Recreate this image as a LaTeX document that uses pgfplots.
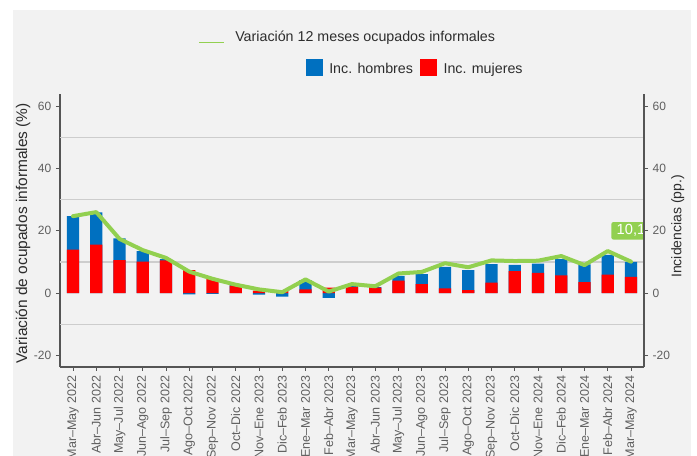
\documentclass[border=0pt]{standalone}
\usepackage{fontspec}
\setmainfont{Liberation Sans}
\usepackage{pgfplots}
\usepackage{pgfplotstable}
\pgfplotsset{compat=1.18}
\definecolor{bgc}{RGB}{242,242,242}
\definecolor{cblue}{RGB}{0,112,192}
\definecolor{cred}{RGB}{255,0,0}
\definecolor{cgreen}{RGB}{146,208,80}
\definecolor{gridc}{RGB}{205,205,205}
\definecolor{axc}{RGB}{85,85,85}
\definecolor{tickc}{RGB}{95,95,95}
\definecolor{txtc}{RGB}{45,45,45}

% red = Inc. mujeres; blue = top of stacked blue bar (if hombres>0) or hombres (if <0); line = variacion
\pgfplotstableread{
x red blue line
0 14.0 24.7 24.7
1 15.6 25.9 26.0
2 10.6 17.6 17.4
3 10.1 13.5 13.8
4 10.5 10.9 11.3
5 7.4 -0.4 6.9
6 4.6 -0.2 4.6
7 2.4 2.6 2.7
8 0.8 -0.5 1.2
9 0.9 -1.1 0.3
10 1.2 4.2 4.4
11 1.8 -1.5 0.5
12 2.0 2.4 2.9
13 1.8 1.9 2.2
14 4.0 5.5 6.3
15 2.9 6.1 6.8
16 1.5 8.4 9.6
17 1.0 7.4 8.3
18 3.4 9.3 10.5
19 7.1 9.1 10.3
20 6.5 9.5 10.4
21 5.7 10.9 11.9
22 3.5 9.2 9.0
23 5.9 12.3 13.5
24 5.2 10.0 10.1
}\data

\begin{document}
\begin{tikzpicture}
\begin{scope}[x=0.75pt, y=-0.75pt, shift={(-45pt,275.25pt)}]
\fill[white] (0,0) rectangle (697,456);
\fill[bgc] (13,10) rectangle (691,456);
\end{scope}

\begin{axis}[
  at={(0,0)}, anchor=south west, scale only axis,
  width=438pt, height=204.75pt,
  xmin=-0.56, xmax=24.56, ymin=-23.7, ymax=63.9,
  axis x line*=bottom, axis y line*=left,
  axis line style={axc, line width=0.8pt, -},
  xtick={0,...,24},
  xticklabels={Mar–May 2022,Abr–Jun 2022,May–Jul 2022,Jun–Ago 2022,Jul–Sep 2022,Ago–Oct 2022,Sep–Nov 2022,Oct–Dic 2022,Nov–Ene 2023,Dic–Feb 2023,Ene–Mar 2023,Feb–Abr 2023,Mar–May 2023,Abr–Jun 2023,May–Jul 2023,Jun–Ago 2023,Jul–Sep 2023,Ago–Oct 2023,Sep–Nov 2023,Oct–Dic 2023,Nov–Ene 2024,Dic–Feb 2024,Ene–Mar 2024,Feb–Abr 2024,Mar–May 2024},
  x tick label style={rotate=90, anchor=east, font=\fontsize{9.4}{10}\selectfont, text=tickc},
  ytick={-20,0,20,40,60},
  yticklabels={-20,0,20,40,60},
  y tick label style={font=\fontsize{9}{10}\selectfont, text=tickc},
  tick align=outside, major tick length=3pt,
  tick style={axc, line width=0.6pt},
  extra y ticks={-10,10,30,50},
  extra y tick labels={},
  extra y tick style={grid=major, major tick length=0pt},
  grid style={gridc, line width=0.9pt},
  ylabel={Variación de ocupados informales (\%)},
  ylabel style={at={(axis description cs:-0.0634,0.49)}, anchor=center, font=\fontsize{11.6}{13}\selectfont, text=txtc},
  clip=true,
]
\addplot[ybar, bar width=0.52, bar shift=0pt, fill=cblue, draw=none] table[x=x, y=blue] {\data};
\addplot[ybar, bar width=0.52, bar shift=0pt, fill=cred, draw=none] table[x=x, y=red] {\data};
\addplot[cgreen, line width=3pt, line join=round, line cap=round, mark=none] table[x=x, y=line] {\data};
\node[fill=cgreen, text=white, font=\fontsize{11}{12}\selectfont, rounded corners=1.5pt, inner xsep=4pt, inner ysep=2pt, minimum height=11.5pt] at (axis cs:24,20) {10,1};
\end{axis}

\begin{axis}[
  at={(0,0)}, anchor=south west, scale only axis,
  width=438pt, height=204.75pt,
  xmin=-0.56, xmax=24.56, ymin=-23.7, ymax=63.9,
  axis x line=none, axis y line*=right,
  axis line style={axc, line width=0.8pt, -},
  ytick={-20,0,20,40,60},
  yticklabels={-20,0,20,40,60},
  y tick label style={font=\fontsize{9}{10}\selectfont, text=tickc},
  tick align=outside, major tick length=3pt,
  tick style={axc, line width=0.6pt},
  ylabel={Incidencias (pp.)},
  ylabel style={at={(axis description cs:1.058,0.515)}, anchor=center, font=\fontsize{10.5}{12}\selectfont, text=txtc},
]
\addplot[draw=none] coordinates {(0,0)};
\end{axis}

\begin{scope}[x=0.75pt, y=-0.75pt, shift={(-45pt,275.25pt)}]
\draw[cgreen, line width=1.2pt] (199,42.7) -- (224,42.7);
\node[anchor=base west, inner sep=0pt, font=\fontsize{10.7}{12}\selectfont, text=txtc] at (235,41.5) {Variación 12 meses ocupados informales};
\fill[cblue] (305.7,59.3) rectangle (322.7,76);
\node[anchor=base west, inner sep=0pt, font=\fontsize{10.7}{12}\selectfont, text=txtc] at (329,73.3) {Inc. hombres};
\fill[cred] (420,59.3) rectangle (436.7,76);
\node[anchor=base west, inner sep=0pt, font=\fontsize{10.7}{12}\selectfont, text=txtc] at (443.3,73.3) {Inc. mujeres};
\end{scope}

\pgfresetboundingbox
\path[use as bounding box] (-45pt,-66.75pt) rectangle (477.75pt,275.25pt);
\end{tikzpicture}
\end{document}
